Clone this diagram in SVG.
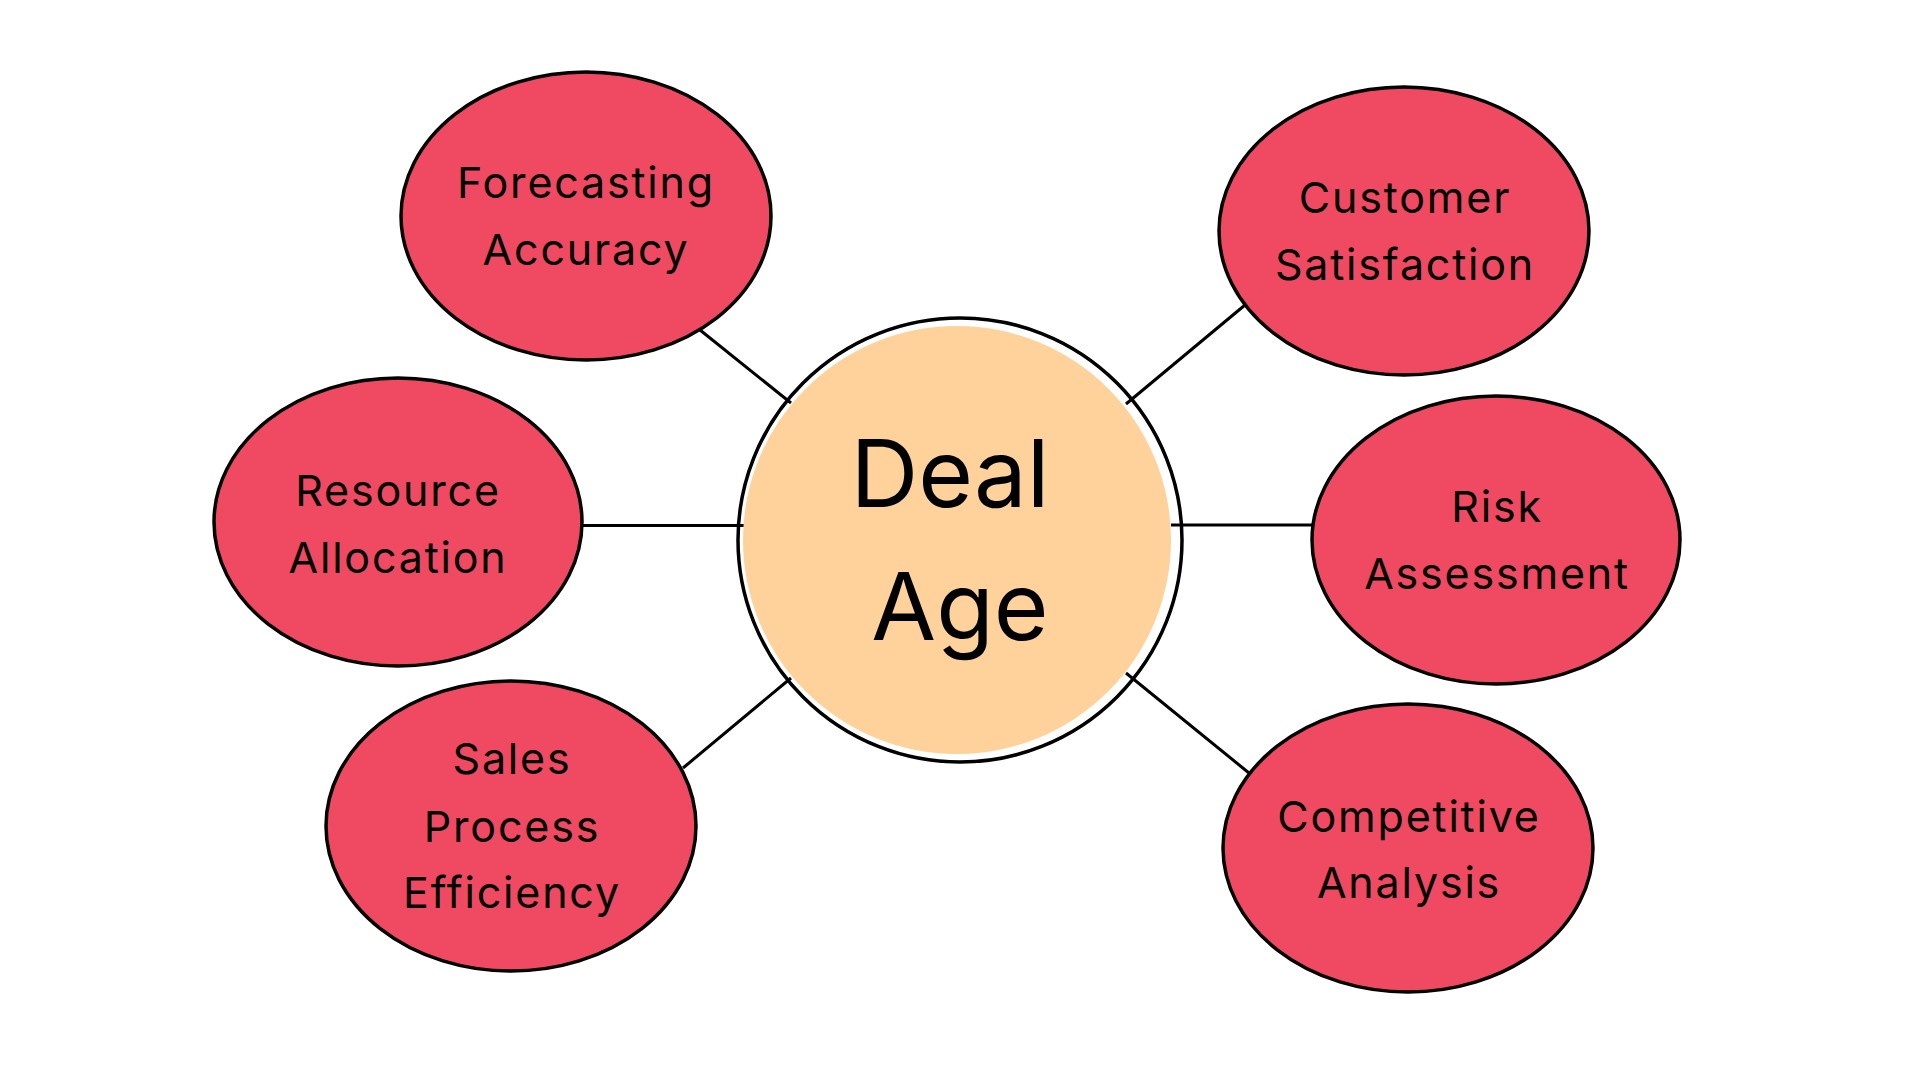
<svg xmlns="http://www.w3.org/2000/svg" width="1920" height="1080" viewBox="0 0 1920 1080">
<style>
.sat{fill:#EF4A62;stroke:#000;stroke-width:3.5}
.lbl{font-family:Inter,"DejaVu Sans",sans-serif;font-size:43px;letter-spacing:1.8px;fill:#000;text-anchor:middle}
.big{font-family:Inter,"DejaVu Sans",sans-serif;font-size:94px;fill:#000;text-anchor:middle}
.con{stroke:#000;stroke-width:3;fill:none}
</style>
<rect width="1920" height="1080" fill="#fff"/>
<g id="connectors">
<line class="con" x1="700" y1="330" x2="791" y2="403"/>
<line class="con" x1="1245" y1="305" x2="1126" y2="404"/>
<line class="con" x1="582" y1="525.5" x2="744" y2="525.5"/>
<line class="con" x1="1171" y1="525" x2="1312" y2="525"/>
<line class="con" x1="683" y1="768" x2="791" y2="678"/>
<line class="con" x1="1126" y1="673" x2="1249" y2="773"/>
</g>
<g id="center">
<circle cx="960" cy="540" r="222" fill="none" stroke="#000" stroke-width="3.5"/>
<circle cx="957" cy="540" r="214" fill="#FED29A"/>
<text class="big" x="950" y="507">Deal</text>
<text class="big" x="960" y="640">Age</text>
</g>
<g id="forecasting">
<ellipse class="sat" cx="586" cy="216" rx="185" ry="144"/>
<text class="lbl" x="586" y="198">Forecasting</text>
<text class="lbl" x="586" y="265">Accuracy</text>
</g>
<g id="customer">
<ellipse class="sat" cx="1404" cy="231" rx="185" ry="144"/>
<text class="lbl" x="1405" y="213">Customer</text>
<text class="lbl" x="1405" y="280">Satisfaction</text>
</g>
<g id="resource">
<ellipse class="sat" cx="398" cy="522" rx="184" ry="144"/>
<text class="lbl" x="398" y="506">Resource</text>
<text class="lbl" x="398" y="573">Allocation</text>
</g>
<g id="risk">
<ellipse class="sat" cx="1496" cy="540" rx="184" ry="144"/>
<text class="lbl" x="1497" y="522">Risk</text>
<text class="lbl" x="1497" y="589">Assessment</text>
</g>
<g id="sales">
<ellipse class="sat" cx="511" cy="826" rx="185" ry="145"/>
<text class="lbl" x="512" y="774">Sales</text>
<text class="lbl" x="512" y="842">Process</text>
<text class="lbl" x="512" y="908">Efficiency</text>
</g>
<g id="competitive">
<ellipse class="sat" cx="1408" cy="848" rx="185" ry="144"/>
<text class="lbl" x="1409" y="832">Competitive</text>
<text class="lbl" x="1409" y="898">Analysis</text>
</g>
</svg>
